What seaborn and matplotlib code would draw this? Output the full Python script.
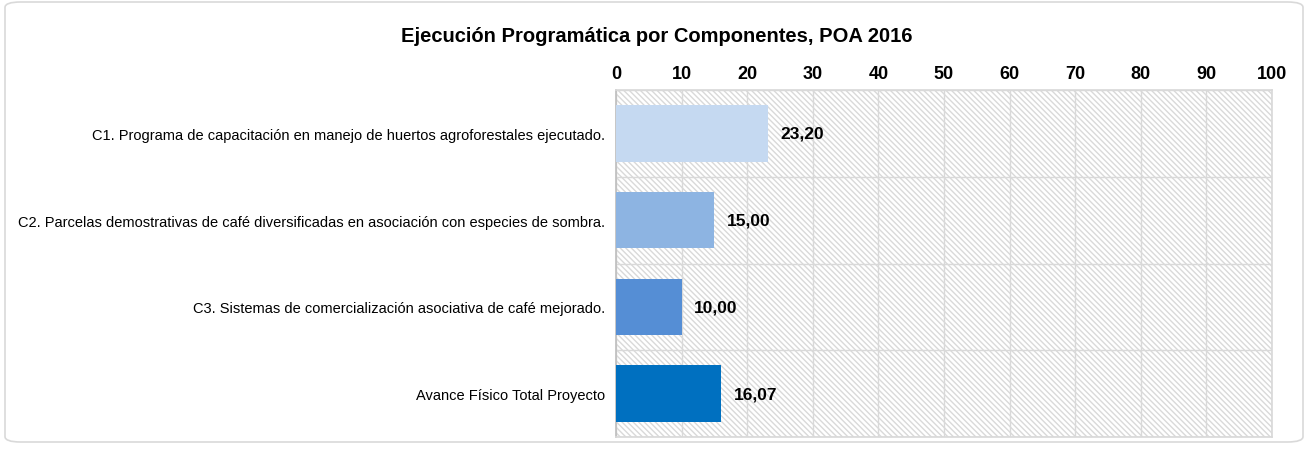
import matplotlib
matplotlib.use("Agg")
import matplotlib.pyplot as plt
from matplotlib.patches import FancyBboxPatch, Rectangle
import seaborn as sns
import pandas as pd

categories = [
    "C1. Programa de capacitación en manejo de huertos agroforestales ejecutado.",
    "C2. Parcelas demostrativas de café diversificadas en asociación con especies de sombra.",
    "C3. Sistemas de comercialización asociativa de café mejorado.",
    "Avance Físico Total Proyecto",
]
values = [23.20, 15.00, 10.00, 16.07]
colors = ["#C5D9F1", "#8DB4E2", "#558ED5", "#0070C0"]
ticks = [0, 10, 20, 30, 40, 50, 60, 70, 80, 90, 100]
title = "Ejecución Programática por Componentes, POA 2016"

sns.set_theme(style="white")
plt.rcParams["font.family"] = ["Liberation Sans", "DejaVu Sans"]
plt.rcParams["text.color"] = "black"
plt.rcParams["xtick.color"] = "black"
plt.rcParams["ytick.color"] = "black"
plt.rcParams["hatch.color"] = "#D9D9D9"
plt.rcParams["hatch.linewidth"] = 1.0

df = pd.DataFrame({"cat": categories, "val": values})

fig = plt.figure(figsize=(13.09, 4.52), dpi=100)
fig.patches.append(FancyBboxPatch((5 / 1309, 9 / 452), 1298 / 1309, 440 / 452,
                                  boxstyle="round,pad=0,rounding_size=0.012",
                                  transform=fig.transFigure, facecolor="white",
                                  edgecolor="#D9D9D9", linewidth=1.2, zorder=-10))

ax = fig.add_axes([616 / 1309, 1 - 438 / 452, (1272 - 616) / 1309, (438 - 91) / 452])
ax.patch.set_alpha(0)

sns.barplot(data=df, x="val", y="cat", hue="cat", palette=colors, orient="h",
            width=0.65, ax=ax, legend=False, saturation=1, zorder=3, linewidth=0)

ax.add_patch(Rectangle((0, 0), 1, 1, transform=ax.transAxes, facecolor="white",
                       edgecolor="#D9D9D9", hatch="\\\\\\\\\\\\", linewidth=0, zorder=0))

ax.set_xlim(0, 100)
ax.set_ylim(3.5, -0.5)
ax.set_xticks(ticks)
ax.xaxis.tick_top()
ax.tick_params(axis="x", length=0, pad=6, labelsize=13)
for lab in ax.get_xticklabels():
    lab.set_fontweight("bold")
ax.tick_params(axis="y", length=0, pad=8, labelsize=10.5)
ax.set_xlabel("")
ax.set_ylabel("")

for t in ticks:
    ax.axvline(t, color="#D9D9D9", linewidth=1, zorder=1)
for b in [-0.5, 0.5, 1.5, 2.5, 3.5]:
    ax.axhline(b, color="#D9D9D9", linewidth=1, zorder=1)
for s in ax.spines.values():
    s.set_color("#D9D9D9")
ax.spines["left"].set_color("#BFBFBF")

for cont in ax.containers:
    ax.bar_label(cont, labels=[f"{v:.2f}".replace(".", ",") for v in cont.datavalues],
                 padding=9, fontsize=12.5, fontweight="bold", color="black")

fig.text(657 / 1309, 1 - 36 / 452, title, ha="center", va="center",
         fontsize=14.5, fontweight="bold")

fig.savefig("out.png", dpi=100)
